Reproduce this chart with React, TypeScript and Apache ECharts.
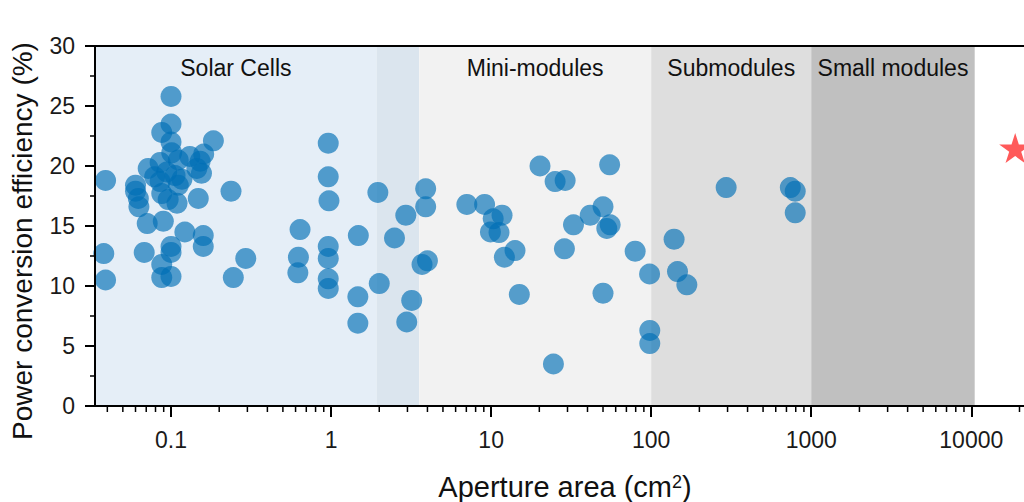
import React, { useEffect, useRef } from "react";
import * as echarts from "echarts";

// Aperture area (cm²) and power conversion efficiency (%) of each reported device
const aperture = [
  0.039, 0.038, 0.039, 0.06, 0.06, 0.0625, 0.063, 0.072, 0.071, 0.068,
  0.0875, 0.1, 0.1, 0.1, 0.184, 0.0855, 0.101, 0.111, 0.131, 0.094,
  0.106, 0.0855, 0.111, 0.0875, 0.096, 0.109, 0.079, 0.117, 0.152, 0.155,
  0.145, 0.16, 0.148, 0.0895, 0.122, 0.159, 0.159, 0.1, 0.1, 0.0875,
  0.0875, 0.1, 0.237, 0.293, 0.245,
  0.96, 0.96, 0.97, 0.96, 0.96, 0.96, 0.96, 0.64, 0.625, 0.62,
  1.96, 1.48, 1.47, 1.47, 2.0, 2.49, 2.93, 3.19, 2.97, 3.9,
  3.9, 3.7, 4.0,
  7.05, 9.1, 10.3, 11.7, 9.9, 11.2, 12.1, 14.1, 15.0, 20.2,
  25.1, 29.0, 24.5, 32.7, 28.7, 41.6, 50, 55, 55.4, 52.8,
  50, 79.4, 97.7, 98, 98,
  139, 146, 167, 294, 740, 794, 794,
];
const efficiency = [
  18.8, 12.7, 10.5, 18.4, 17.9, 17.3, 16.6, 19.8, 15.2, 12.8,
  22.8, 25.8, 23.5, 22.0, 22.1, 20.3, 21.1, 20.5, 20.8, 19.5,
  19.2, 18.7, 18.4, 17.7, 17.2, 16.9, 19.1, 18.9, 20.4, 19.4,
  19.8, 21.0, 17.3, 15.4, 14.5, 14.2, 13.3, 13.3, 12.8, 11.8,
  10.7, 10.8, 17.9, 12.3, 10.7,
  21.9, 19.1, 17.1, 13.3, 12.3, 10.6, 9.8, 14.7, 12.4, 11.1,
  17.8, 14.2, 9.1, 6.9, 10.2, 14.0, 15.9, 8.8, 7.0, 18.1,
  16.6, 11.8, 12.1,
  16.8, 16.8, 15.6, 15.9, 14.5, 14.45, 12.4, 12.95, 9.3, 20.0,
  18.7, 18.8, 3.5, 15.1, 13.1, 15.9, 16.6, 20.1, 15.1, 14.8,
  9.4, 12.9, 11.0, 6.3, 5.2,
  13.9, 11.2, 10.1, 18.2, 18.2, 17.9, 16.1,
];

// Highlighted large-area module (star)
const starAperture = [18800];
const starEfficiency = [21.5];

// Size classes shaded behind the points
const regionNames = ["Solar Cells", "", "Mini-modules", "Submodules", "Small modules"];
const regionStart = [0.0335, 1.93, 3.55, 100, 1000];
const regionEnd = [1.93, 3.55, 100, 1000, 10500];
const regionColors = ["#e5eef7", "#dbe5ee", "#f2f2f2", "#dedede", "#c0c0c0"];

// Axis ranges and ticks
const xMin = 0.0335;
const xMax = 25000;
const xMajorTicks = [0.1, 1, 10, 100, 1000, 10000];
const xDecades = [0.01, 0.1, 1, 10, 100, 1000, 10000];
const xMinorMantissas = [2, 3, 4, 5, 6, 7, 8, 9];
const yMin = 0;
const yMax = 30;
const yInterval = 5;

const FONT = "'Liberation Sans', Arial, sans-serif";

export default function App() {
  const ref = useRef<HTMLDivElement>(null);

  useEffect(() => {
    if (!ref.current) return;
    const chart = echarts.init(ref.current, undefined, { renderer: "svg" });

    const points = aperture.map((a, i) => [a, efficiency[i]]);
    const star = starAperture.map((a, i) => [a, starEfficiency[i]]);
    const minorTicks: number[][] = [];
    xDecades.forEach((d) =>
      xMinorMantissas.forEach((m) => {
        const v = Number((m * d).toPrecision(6));
        if (v > xMin && v < xMax) minorTicks.push([v, 0]);
      })
    );

    const areaData = regionNames.map((name, i) => [
      {
        name,
        xAxis: regionStart[i],
        itemStyle: { color: regionColors[i], opacity: 1 },
        label: { show: name !== "" },
      },
      { xAxis: regionEnd[i] },
    ]);

    const fmt = (v: number) => String(Number(Number(v).toPrecision(6)));

    chart.setOption({
      animation: false,
      textStyle: { fontFamily: FONT },
      grid: {
        left: 95,
        right: -11,
        top: 46,
        bottom: 96,
        containLabel: false,
        outerBoundsMode: "none",
      },
      xAxis: [
        {
          type: "log",
          logBase: 10,
          min: xMin,
          max: xMax,
          position: "bottom",
          z: 10,
          axisLine: { show: true, lineStyle: { color: "#000", width: 2 } },
          axisTick: {
            show: true,
            inside: false,
            length: 11,
            customValues: xMajorTicks,
            lineStyle: { color: "#000", width: 2 },
          },
          axisLabel: {
            customValues: xMajorTicks,
            formatter: fmt,
            fontSize: 23,
            color: "#1a1a1a",
            margin: 22,
            fontFamily: FONT,
          },
          splitLine: { show: false },
          minorTick: { show: false },
        },
        {
          type: "log",
          logBase: 10,
          min: xMin,
          max: xMax,
          position: "top",
          z: 10,
          axisLine: { show: true, lineStyle: { color: "#000", width: 2 } },
          axisTick: { show: false },
          axisLabel: { show: false },
          splitLine: { show: false },
        },
      ],
      yAxis: {
        type: "value",
        min: yMin,
        max: yMax,
        interval: yInterval,
        z: 10,
        axisLine: { show: true, lineStyle: { color: "#000", width: 2 } },
        axisTick: { show: true, inside: false, length: 10, lineStyle: { color: "#000", width: 2 } },
        minorTick: { show: true, splitNumber: 2, length: 5, lineStyle: { color: "#000", width: 1.5 } },
        axisLabel: { fontSize: 23, color: "#1a1a1a", margin: 20, fontFamily: FONT },
        splitLine: { show: false },
      },
      series: [
        {
          type: "scatter",
          data: points,
          symbol: "circle",
          symbolSize: 21,
          itemStyle: { color: "rgb(0,110,182)", opacity: 0.65 },
          z: 3,
          markArea: {
            silent: true,
            data: areaData,
            label: {
              position: "insideTop",
              distance: 10,
              fontSize: 23,
              color: "#111",
              fontFamily: FONT,
            },
          },
        },
        {
          type: "scatter",
          data: star,
          symbol:
            "path://M50,0 L61,35 L98,35 L68,57 L79,91 L50,70 L21,91 L32,57 L2,35 L39,35 Z",
          symbolSize: [32, 30],
          itemStyle: { color: "#ff5a5a", opacity: 1 },
          z: 4,
        },
        {
          type: "custom",
          data: minorTicks,
          silent: true,
          clip: false,
          z: 10,
          renderItem: (_params: any, api: any) => {
            const p = api.coord([api.value(0), 0]);
            return {
              type: "line",
              shape: { x1: p[0], y1: p[1] + 1, x2: p[0], y2: p[1] + 6 },
              style: { stroke: "#000", lineWidth: 1.5 },
            };
          },
        },
      ],
      graphic: [
        {
          type: "text",
          x: 22,
          y: 241,
          rotation: Math.PI / 2,
          style: {
            text: "Power conversion efficiency (%)",
            fontSize: 28,
            fontFamily: FONT,
            fill: "#111",
            align: "center",
            verticalAlign: "middle",
            textAlign: "center",
            textVerticalAlign: "middle",
          },
        },
        {
          type: "text",
          x: 565,
          y: 487,
          style: {
            text: "{n|Aperture area (cm}{s|2}{n|)}",
            fill: "#111",
            align: "center",
            verticalAlign: "middle",
            textAlign: "center",
            textVerticalAlign: "middle",
            rich: {
              n: { fontSize: 29, lineHeight: 28, fontFamily: FONT, fill: "#111", color: "#111" },
              s: {
                fontSize: 18,
                lineHeight: 9,
                verticalAlign: "top",
                fontFamily: FONT,
                fill: "#111",
                color: "#111",
              },
            },
          },
        },
      ],
    });

    return () => chart.dispose();
  }, []);

  return (
    <div
      ref={ref}
      style={{ position: "fixed", left: 0, top: 0, width: 1024, height: 502, background: "#fff" }}
    />
  );
}
